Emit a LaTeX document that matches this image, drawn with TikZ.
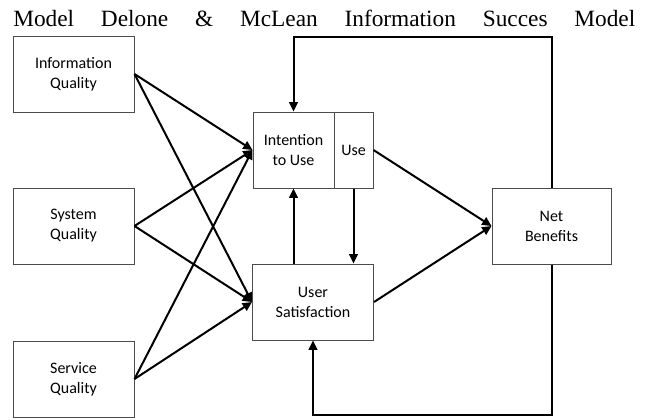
\documentclass[tikz,border=0pt]{standalone}
\usepackage{fontspec}
\setmainfont{Liberation Serif}
\newfontfamily\boxfont{Carlito}
\usetikzlibrary{arrows.meta}

\tikzset{
  dmbox/.style={draw=black!70, line width=0.75pt, minimum width=90.75pt, minimum height=57pt,
    inner sep=0pt, align=center, font=\boxfont\fontsize{12}{15}\selectfont},
  flow/.style={line width=1.5pt, -{Triangle[length=7pt,width=6.5pt]}},
}

\begin{document}
\begin{tikzpicture}[x=0.75pt,y=0.75pt,yscale=-1,xscale=1]
        \useasboundingbox (0,0) rectangle (652,419);

        % Title
        \node (title) [anchor=base west, inner sep=0pt, font=\fontsize{17.5}{20}\selectfont] at (13,26)
          {\makebox[466.5pt][s]{Model Delone \& McLean Information Succes Model}};

        % Boxes
        \node (infoq) [dmbox] at (73.5,74) {Information\\Quality};
        \node (sysq) [dmbox] at (73.5,226) {System\\Quality};
        \node (servq) [dmbox] at (73.5,379) {Service\\Quality};
        \node (intent) [dmbox, minimum width=60.75pt] at (293.5,150) {Intention\\to Use};
        \node (use) [dmbox, minimum width=29.25pt] at (353.5,150) {Use};
        \node (usersat) [dmbox] at (313,302) {User\\Satisfaction};
        \node (netben) [dmbox, minimum width=89.25pt] at (551.5,226) {Net\\Benefits};

        % Quality links
        \foreach \src in {infoq,sysq,servq} {
          \draw [flow] (\src.east) -- (intent.west);
          \draw [flow] (\src.east) -- (usersat.west);
        }

        % Use / satisfaction links
        \draw [flow] (intent.south |- usersat.north) -- (intent.south);
        \draw [flow] (use.south) -- (use.south |- usersat.north);
        \draw [flow] (use.east) -- (netben.west);
        \draw [flow] (usersat.east) -- (netben.west);

        % Feedback loops
        \coordinate (topturn) at (551.5,37);
        \coordinate (botturn) at (551.5,415);
        \draw [flow] (netben.north) -- (topturn) -- (intent.north |- topturn) -- (intent.north);
        \draw [flow] (netben.south) -- (botturn) -- (usersat.south |- botturn) -- (usersat.south);

\end{tikzpicture}
\end{document}
